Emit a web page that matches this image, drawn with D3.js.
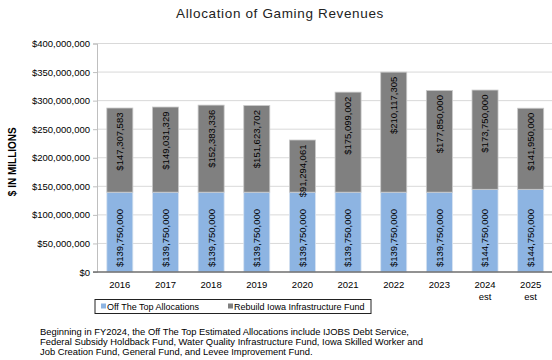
<!DOCTYPE html>
<html>
<head>
<meta charset="utf-8">
<script src="https://cdn.jsdelivr.net/npm/d3@7"></script>
<style>
  html, body { margin: 0; padding: 0; background: #fff; }
  svg { display: block; font-family: "Liberation Sans", Arial, sans-serif; }
</style>
</head>
<body>
<svg id="chart" width="552" height="360"></svg>
<script>
// Fiscal years (two-line labels for estimates)
const years = ["2016", "2017", "2018", "2019", "2020", "2021", "2022", "2023", "2024\nest", "2025\nest"];
// Off The Top Allocations
const offTheTop = [139750000, 139750000, 139750000, 139750000, 139750000, 139750000, 139750000, 139750000, 144750000, 144750000];
// Rebuild Iowa Infrastructure Fund
const rebuildIowa = [147307583, 149031329, 152383336, 151623702, 91294061, 175099002, 210117305, 177850000, 173750000, 141950000];
// Value axis ticks
const yTicks = [0, 50000000, 100000000, 150000000, 200000000, 250000000, 300000000, 350000000, 400000000];

const seriesNames = ["Off The Top Allocations", "Rebuild Iowa Infrastructure Fund"];
const colors = ["#8db4e2", "#808080"];

const svg = d3.select("#chart");
const plot = { left: 97, right: 553.5, top: 43.5, bottom: 272 };

const x = d3.scaleBand().domain(years).range([plot.left, plot.right])
  .paddingInner(0.43).paddingOuter(0.215);
const y = d3.scaleLinear().domain([0, 400000000]).range([plot.bottom, plot.top]);
const money = d3.format("$,");

// Title
svg.append("text")
  .attr("x", 280).attr("y", 18)
  .attr("text-anchor", "middle")
  .style("font-size", "13.5px").style("letter-spacing", "0.65px")
  .attr("fill", "#222")
  .text("Allocation of Gaming Revenues");

// Gridlines
svg.append("g").selectAll("line").data(yTicks.filter(d => d > 0)).join("line")
  .attr("x1", plot.left).attr("x2", 552)
  .attr("y1", d => y(d)).attr("y2", d => y(d))
  .attr("stroke", "#d9d9d9").attr("stroke-width", 1);

// Value axis
const yAxis = svg.append("g")
  .attr("transform", `translate(${plot.left},0)`)
  .call(d3.axisLeft(y).tickValues(yTicks).tickFormat(d => money(d)).tickSize(4).tickPadding(3));
yAxis.select(".domain").attr("stroke", "#bfbfbf");
yAxis.selectAll(".tick line").attr("stroke", "#bfbfbf");
yAxis.selectAll(".tick text").style("font-size", "9.5px").attr("fill", "#000")
  .style("font-family", "'Liberation Sans', Arial, sans-serif");

// Axis title
svg.append("text")
  .attr("transform", `translate(15.8,${(plot.top + plot.bottom) / 2 + 4}) rotate(-90)`)
  .attr("text-anchor", "middle")
  .style("font-size", "10px").style("font-weight", "bold")
  .text("$ IN MILLIONS");

// Stacked bars
const rows = years.map((yr, i) => ({ yr, a: offTheTop[i], b: rebuildIowa[i] }));
const bars = svg.append("g");
rows.forEach(r => {
  const x0 = x(r.yr), w = x.bandwidth(), cx = x0 + w / 2;
  bars.append("rect")
    .attr("x", x0).attr("width", w)
    .attr("y", y(r.a)).attr("height", y(0) - y(r.a))
    .attr("fill", colors[0]).attr("stroke", "#d6e2f0").attr("stroke-width", 0.8);
  bars.append("rect")
    .attr("x", x0).attr("width", w)
    .attr("y", y(r.a + r.b)).attr("height", y(r.a) - y(r.a + r.b))
    .attr("fill", colors[1]).attr("stroke", "#c8c8c8").attr("stroke-width", 0.8);
  // Base label for the lower segment
  bars.append("text")
    .attr("transform", `translate(${cx + 3.4},${y(0) - 5}) rotate(-90)`)
    .attr("text-anchor", "start")
    .style("font-size", "9.5px")
    .text(money(r.a));
  // End label for the upper segment
  bars.append("text")
    .attr("transform", `translate(${cx + 3.4},${y(r.a + r.b) + 4.5}) rotate(-90)`)
    .attr("text-anchor", "end")
    .style("font-size", "9.5px")
    .text(money(r.b));
});

// Category axis line
svg.append("line")
  .attr("x1", plot.left - 4).attr("x2", 552)
  .attr("y1", plot.bottom).attr("y2", plot.bottom)
  .attr("stroke", "#6e6e6e").attr("stroke-width", 1.6);

// Category labels
const xl = svg.append("g");
years.forEach(yr => {
  const t = xl.append("text")
    .attr("x", x(yr) + x.bandwidth() / 2).attr("y", 288)
    .attr("text-anchor", "middle")
    .style("font-size", "9.5px");
  yr.split("\n").forEach((part, k) => {
    t.append("tspan").attr("x", x(yr) + x.bandwidth() / 2).attr("dy", k ? 12 : 0).text(part);
  });
});

// Legend
const lg = svg.append("g");
lg.append("rect").attr("x", 95).attr("y", 299.5).attr("width", 276).attr("height", 14)
  .attr("fill", "#fff").attr("stroke", "#222").attr("stroke-width", 1);
const legendX = [101, 228];
seriesNames.forEach((name, i) => {
  lg.append("rect").attr("x", legendX[i]).attr("y", 303.5).attr("width", 5).attr("height", 5)
    .attr("fill", colors[i]);
  lg.append("text").attr("x", legendX[i] + 6).attr("y", 309.8)
    .style("font-size", "9px").text(name);
});

// Footnote
const note = [
  "Beginning in FY2024, the Off The Top Estimated Allocations include IJOBS Debt Service,",
  "Federal Subsidy Holdback Fund, Water Quality Infrastructure Fund, Iowa Skilled Worker and",
  "Job Creation Fund, General Fund, and Levee Improvement Fund."
];
svg.append("g").selectAll("text").data(note).join("text")
  .attr("x", 40).attr("y", (d, i) => 334.5 + i * 10)
  .style("font-size", "9.4px")
  .text(d => d);
</script>
</body>
</html>
